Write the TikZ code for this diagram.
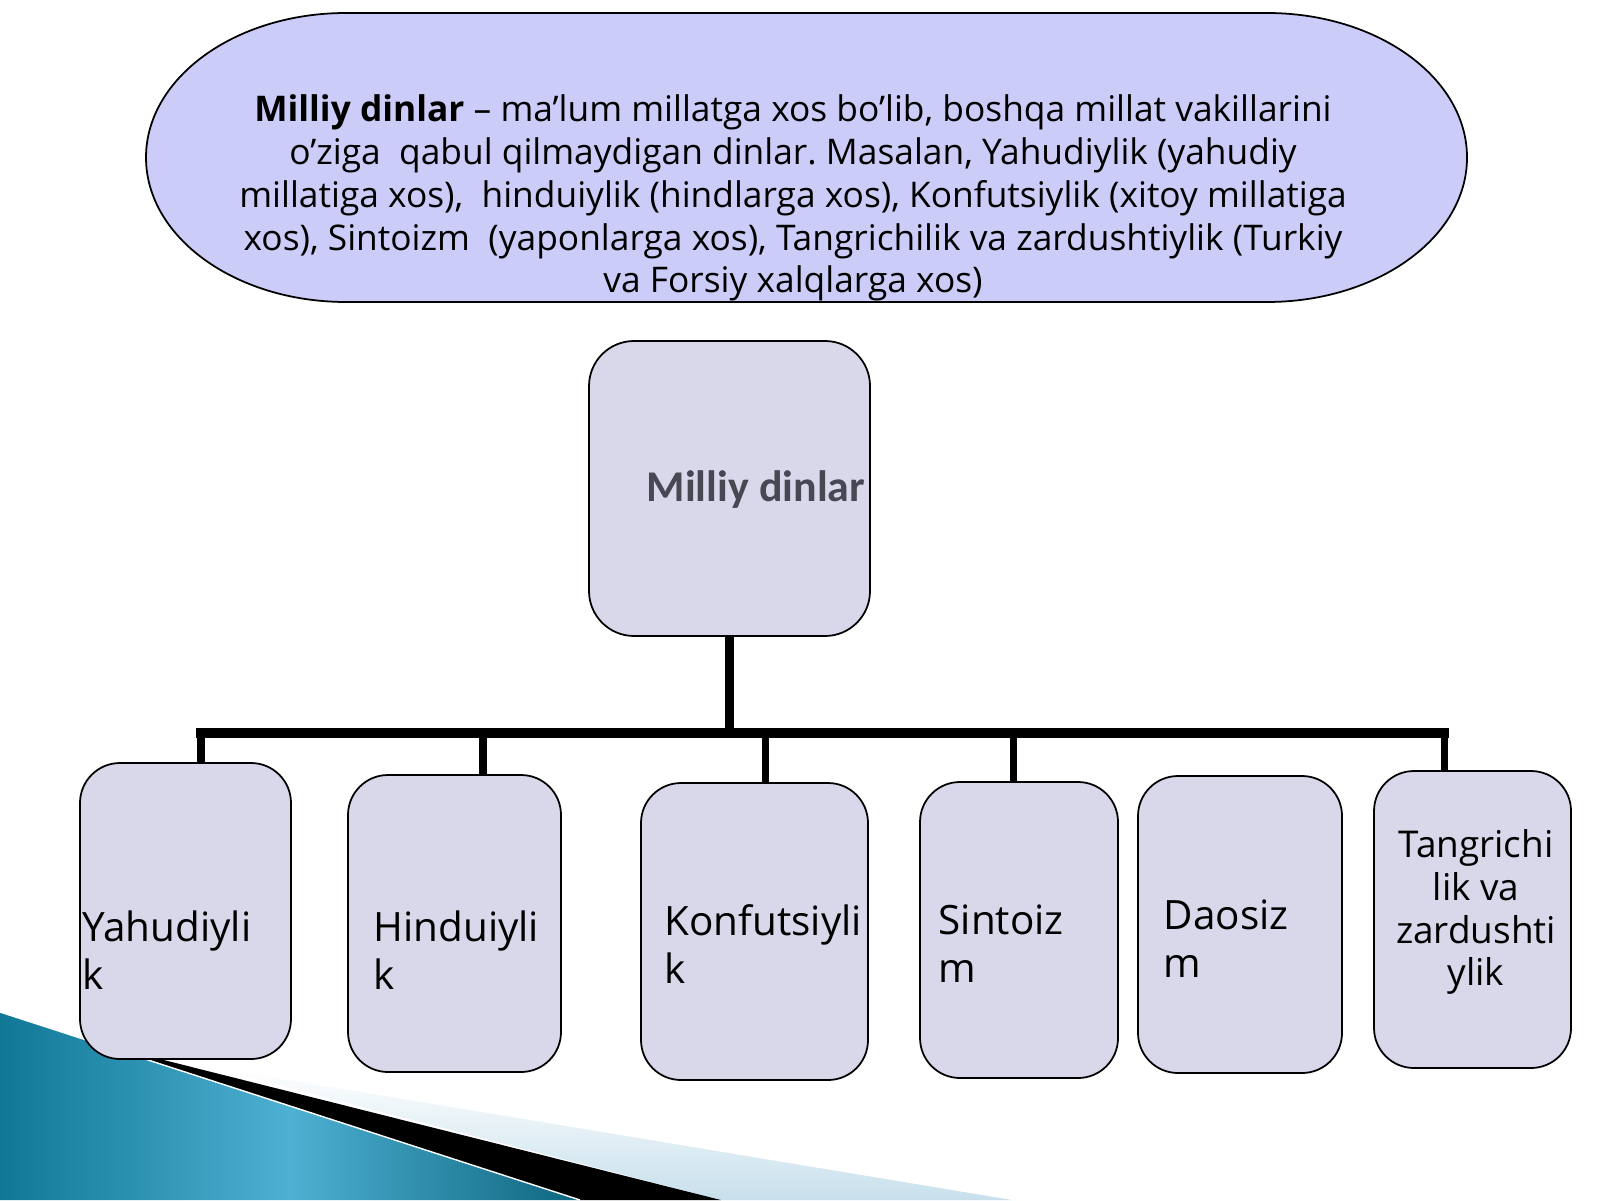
\documentclass[tikz,border=0pt]{standalone}
\usepackage{fontspec}
\setmainfont{Open Sans}
\newfontfamily\calibfont{Carlito}
\frenchspacing

\definecolor{ovalfill}{RGB}{204,204,248}
\definecolor{boxfill}{RGB}{216,216,234}
\definecolor{headgray}{RGB}{72,72,84}
\definecolor{tealdark}{RGB}{16,120,150}
\definecolor{teallight}{RGB}{78,176,210}
\definecolor{bandblue}{RGB}{200,224,236}

\begin{document}
\begin{tikzpicture}[
        rbox/.style={draw, line width=0.5pt, fill=boxfill, rounded corners=0.4cm, inner sep=0pt},
        lbl/.style={inner sep=0pt, align=left, font=\fontsize{11.5}{13.66}\selectfont},
        bus/.style={line width=2.6pt, line cap=rect},
        drop/.style={line width=2pt}
    ]
    \useasboundingbox (0, 0) rectangle (16, 12);
    %\draw[lightgray] (0, 0) grid (16, 12);

    % corner decoration
    \shade[top color=white, bottom color=bandblue] (2.04, 1.34) -- (10.12, 0) -- (7.21, 0) -- cycle;
    \fill[black] (1.0, 1.56) -- (7.21, 0) -- (5.80, 0) -- cycle;
    \shade[left color=tealdark, right color=tealdark!85!black, middle color=teallight] (0, 1.88) -- (5.80, 0) -- (0, 0) -- cycle;
    \draw[white, line width=0.4pt] (0, 1.88) -- (5.80, 0);

    % definition
    \draw[fill=ovalfill, line width=0.5pt] (3.46, 11.87) -- (12.67, 11.87)
        arc[start angle=90, end angle=-90, x radius=2, y radius=1.445] -- (3.46, 8.98)
        arc[start angle=270, end angle=90, x radius=2, y radius=1.445] -- cycle;
    \node[align=center, inner sep=0pt, font=\fontsize{10.05}{12.2}\selectfont] (defn) at (7.93, 10.02)
        {\textbf{Milliy dinlar} – ma’lum millatga xos bo’lib, boshqa millat vakillarini\\
        o’ziga\ \ qabul qilmaydigan dinlar. Masalan, Yahudiylik (yahudiy\\
        millatiga xos),\ \ hinduiylik (hindlarga xos), Konfutsiylik (xitoy millatiga\\
        xos), Sintoizm\ \ (yaponlarga xos), Tangrichilik va zardushtiylik (Turkiy\\
        va Forsiy xalqlarga xos)};

    \node[rbox, rounded corners=0.45cm, minimum width=2.81cm, minimum height=2.95cm] (milliy) at (7.295, 7.115) {};
    \node[inner sep=0pt, anchor=west, text=headgray, font=\calibfont\bfseries\fontsize{12.5}{15}\selectfont] (milliyL) at (6.46, 7.10) {Milliy dinlar};

    \node[rbox, minimum width=2.11cm, minimum height=2.96cm] (yah) at (1.855, 2.89) {};
    \node[rbox, minimum width=2.13cm, minimum height=2.97cm] (hin) at (4.545, 2.765) {};
    \node[rbox, minimum width=2.27cm, minimum height=2.97cm] (kon) at (7.545, 2.685) {};
    \node[rbox, minimum width=1.98cm, minimum height=2.96cm] (sin) at (10.19, 2.70) {};
    \node[rbox, minimum width=2.04cm, minimum height=2.97cm] (dao) at (12.40, 2.755) {};
    \node[rbox, minimum width=1.97cm, minimum height=2.97cm] (tan) at (14.725, 2.805) {};

    \node[lbl, anchor=west] (yahL) at (0.82, 2.50) {Yahudiyli\\k};
    \node[lbl, anchor=west] (hinL) at (3.73, 2.50) {Hinduiyli\\k};
    \node[lbl, anchor=west] (konL) at (6.64, 2.56) {Konfutsiyli\\k};
    \node[lbl, anchor=west] (sinL) at (9.38, 2.56) {Sintoiz\\m};
    \node[lbl, anchor=west] (daoL) at (11.63, 2.61) {Daosiz\\m};
    \node[lbl, align=center, font=\fontsize{10.5}{12.2}\selectfont] (tanL) at (14.76, 2.88) {Tangrichi\\lik va\\zardushti\\ylik};

    % tree lines
    \coordinate (busY) at (0, 4.67);
    \coordinate (yah-top) at ([xshift=1.55mm]yah.north);
    \coordinate (hin-top) at ([xshift=2.85mm]hin.north);
    \coordinate (kon-top) at ([xshift=1.05mm]kon.north);
    \coordinate (sin-top) at ([xshift=-0.6mm]sin.north);
    \coordinate (tan-top) at ([xshift=-2.85mm]tan.north);
    \draw[line width=2.3pt] (milliy.south) -- (milliy.south |- busY);
    \draw[bus] (yah-top |- busY) -- (tan-top |- busY);
    \foreach \b in {yah, hin, kon, sin, tan}
        \draw[drop] (\b-top |- busY) -- (\b-top);
\end{tikzpicture}
\end{document}
